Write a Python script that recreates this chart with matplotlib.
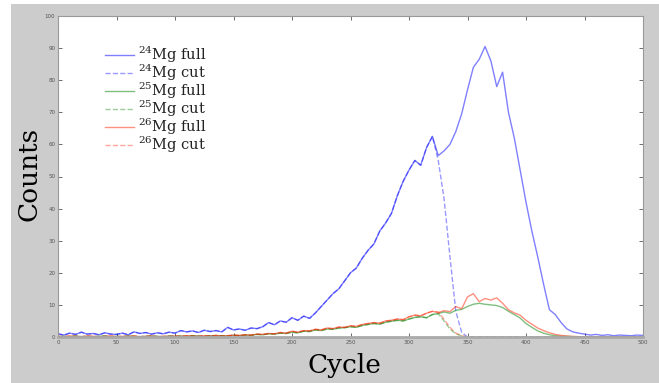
import numpy as np
import matplotlib
matplotlib.use('Agg')
import matplotlib.pyplot as plt
from matplotlib.patches import Rectangle

plt.rcParams['mathtext.fontset'] = 'dejavuserif'

# cycles sampled every 5
cycle = np.arange(0, 501, 5)

mg24_full = [
    1.0, 0.6, 1.2, 0.8, 1.5, 0.9, 1.1, 0.7, 1.3, 0.9,
    0.8, 1.2, 0.7, 1.6, 1.1, 1.4, 0.9, 1.3, 1.0, 1.5,
    1.2, 2.0, 1.6, 1.9, 1.4, 2.1, 1.7, 2.0, 1.6, 3.0,
    2.2, 2.5, 2.1, 2.8, 2.6, 3.2, 4.5, 3.8, 5.0, 4.6,
    6.0, 5.2, 6.5, 5.8, 7.5, 9.5, 11.5, 13.5, 15.0, 17.5,
    20.0, 21.5, 24.5, 27.0, 29.0, 33.0, 35.5, 38.5, 44.0, 48.5,
    52.0, 55.0, 53.5, 59.0, 62.5, 56.5, 58.0, 60.0, 64.0, 69.5,
    77.0, 84.0, 86.5, 90.5, 86.0, 78.0, 82.5, 70.0, 62.0, 52.0,
    42.0, 33.0, 25.0, 16.5, 8.5, 7.0, 4.5, 2.5, 1.6, 1.2,
    0.9, 0.6, 0.8, 0.5, 0.7, 0.4, 0.6, 0.5, 0.4, 0.6,
    0.5]
mg24_cut_tail = [55.0, 43.0, 25.0, 8.0, 1.5]

mg25_full = [
    0.1, 0.2, 0.1, 0.3, 0.1, 0.2, 0.1, 0.2, 0.3, 0.1,
    0.2, 0.1, 0.3, 0.2, 0.1, 0.2, 0.3, 0.2, 0.1, 0.3,
    0.2, 0.3, 0.2, 0.4, 0.3, 0.2, 0.4, 0.3, 0.4, 0.3,
    0.5, 0.4, 0.6, 0.5, 0.8, 0.7, 1.0, 0.9, 1.2, 1.1,
    1.5, 1.3, 1.8, 1.7, 2.2, 2.0, 2.5, 2.4, 2.8, 2.9,
    3.2, 3.0, 3.6, 3.9, 4.2, 4.0, 4.6, 4.9, 5.2, 5.0,
    5.6, 6.1, 6.3, 6.0, 7.0, 7.3, 7.8, 7.4, 8.3, 8.6,
    9.5, 10.2, 10.5, 10.2, 10.0, 9.8, 9.2, 8.0, 7.0, 5.9,
    4.2, 3.0, 1.9, 1.2, 0.7, 0.4, 0.2, 0.2, 0.1, 0.1,
    0.0, 0.0, 0.0, 0.0, 0.0, 0.0, 0.0, 0.0, 0.0, 0.0,
    0.0]
mg25_cut_tail = [7.2, 5.0, 2.5, 1.0, 0.3]

mg26_full = [
    0.2, 0.1, 0.3, 0.2, 0.1, 0.3, 0.2, 0.1, 0.2, 0.3,
    0.1, 0.2, 0.2, 0.3, 0.1, 0.2, 0.3, 0.1, 0.2, 0.2,
    0.3, 0.2, 0.4, 0.3, 0.2, 0.4, 0.3, 0.5, 0.3, 0.4,
    0.6, 0.5, 0.7, 0.6, 0.9, 0.8, 1.1, 1.0, 1.4, 1.2,
    1.8, 1.5, 2.0, 1.9, 2.4, 2.2, 2.8, 2.6, 3.1, 3.0,
    3.5, 3.3, 3.9, 4.2, 4.5, 4.3, 5.0, 5.2, 5.6, 5.4,
    6.3, 6.8, 6.6, 7.4, 8.0, 7.6, 8.2, 7.9, 9.5, 8.8,
    12.5, 13.5, 11.0, 12.0, 11.5, 12.2, 10.5, 8.5, 7.5, 6.8,
    5.2, 4.0, 2.8, 2.0, 1.3, 0.8, 0.5, 0.3, 0.2, 0.1,
    0.0, 0.0, 0.0, 0.0, 0.0, 0.0, 0.0, 0.0, 0.0, 0.0,
    0.0]
mg26_cut_tail = [7.8, 5.5, 3.0, 1.2, 0.4]

cut_start = 65  # index of cycle 325


def make_cut(full, tail):
    out = list(full[:cut_start]) + tail
    out += [0.0] * (len(full) - len(out))
    return out


mg24_cut = make_cut(mg24_full, mg24_cut_tail)
mg25_cut = make_cut(mg25_full, mg25_cut_tail)
mg26_cut = make_cut(mg26_full, mg26_cut_tail)

fig = plt.figure(figsize=(6.59, 3.83), dpi=100, facecolor='white')
fig.patches.append(Rectangle((11 / 659, 0), 1, 1 - 4 / 383, transform=fig.transFigure,
                             facecolor='#cccccc', edgecolor='none', zorder=-10))

ax = fig.add_axes([58 / 659, 46 / 383, 585 / 659, 321 / 383])
ax.set_facecolor('white')

ax.plot(cycle, mg24_full, color='#0000ff', alpha=0.5, lw=1.0, label=r'$^{24}$Mg full')
ax.plot(cycle, mg24_cut, color='#0000ff', alpha=0.4, lw=1.0, ls='--', label=r'$^{24}$Mg cut')
ax.plot(cycle, mg25_full, color='#008000', alpha=0.5, lw=1.0, label=r'$^{25}$Mg full')
ax.plot(cycle, mg25_cut, color='#008000', alpha=0.4, lw=1.0, ls='--', label=r'$^{25}$Mg cut')
ax.plot(cycle, mg26_full, color='#ff2000', alpha=0.5, lw=1.0, label=r'$^{26}$Mg full')
ax.plot(cycle, mg26_cut, color='#ff2000', alpha=0.4, lw=1.0, ls='--', label=r'$^{26}$Mg cut')

ax.set_xlim(0, 500)
ax.set_ylim(0, 100)
ax.set_xticks(np.arange(0, 501, 50))
ax.set_yticks(np.arange(0, 101, 10))
ax.tick_params(direction='in', length=3, width=0.6, labelsize=4, colors='#555555',
               top=True, right=True, labeltop=False, labelright=False, pad=2)
for s in ax.spines.values():
    s.set_color('#999999')
    s.set_linewidth(0.8)
ax.spines['bottom'].set_linewidth(2)
ax.spines['bottom'].set_color('#aaaaaa')

leg = ax.legend(loc='upper left', bbox_to_anchor=(0.08, 0.91), frameon=False,
                prop={'family': 'DejaVu Serif', 'size': 10.5},
                handlelength=2.0, handletextpad=0.25, labelspacing=-0.16,
                borderaxespad=0, borderpad=0)
for t in leg.get_texts():
    t.set_color('#222222')

fig.text(29 / 659, 1 - 174 / 383, 'Counts', rotation=90, ha='center', va='center',
         fontsize=19, family='DejaVu Serif')
fig.text(344 / 659, 1 - 365 / 383, 'Cycle', ha='center', va='center',
         fontsize=19, family='DejaVu Serif')

fig.savefig('out.png', dpi=100, facecolor=fig.get_facecolor())
